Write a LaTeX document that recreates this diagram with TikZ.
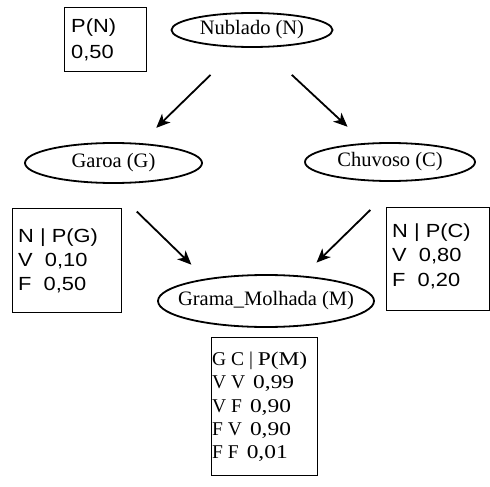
\documentclass[tikz,border=0pt]{standalone}
\usepackage{fontspec}
\setmainfont{Liberation Serif}
\newfontfamily\tabsans[FakeStretch=1.15]{Liberation Sans}
\newfontfamily\tabwide[FakeStretch=1.2]{Liberation Serif}
\usetikzlibrary{shapes.geometric,arrows.meta}

% one row of the table of Grama_Molhada: parent values, then probability
\newcommand\cptrow[2]{#1\hspace{8pt}{\tabwide #2}}

\tikzset{
  chance/.style={ellipse, draw, line width=1.8pt, inner sep=0pt, outer sep=0pt,
    font=\fontsize{20.5}{24}\selectfont},
  cpt/.style={draw, line width=0.9pt, rectangle, inner sep=0pt, outer sep=0pt},
  sanstxt/.style={anchor=base west, inner sep=0pt, font=\tabsans\fontsize{19}{22}\selectfont},
  seriftxt/.style={anchor=base west, inner sep=0pt, font=\fontsize{19.5}{22}\selectfont},
  influence/.style={line width=1.8pt, -{Stealth[length=14pt,width=12pt,inset=4pt]}},
}

\begin{document}
\begin{tikzpicture}[x=1pt,y=-1pt]
\useasboundingbox (0,0) rectangle (490,487);

% variables of the network
\node[chance, minimum width=161pt, minimum height=34pt] (N) at (252,30) {\makebox[0pt]{Nublado (N)}};
\node[chance, minimum width=177pt, minimum height=40pt] (G) at (113.5,163) {\makebox[0pt]{Garoa (G)}};
\node[chance, minimum width=170pt, minimum height=38pt] (C) at (390,162) {\makebox[0pt]{Chuvoso (C)}};
\node[chance, minimum width=216pt, minimum height=52pt] (M) at (266,301) {\makebox[0pt]{Grama\_Molhada (M)}};

% dependencies
\draw[influence, shorten <=40.3pt, shorten >=23pt] (N.-127) -- (G.36);
\draw[influence, shorten <=41pt, shorten >=25pt] (N.-60) -- (C.143.4);
\draw[influence, shorten <=41pt, shorten >=21pt] (G.-107.85) -- (M.160.75);
\draw[influence, shorten <=41.6pt, shorten >=19.9pt] (C.-62.65) -- (M.34.8);

% probability tables
\node[cpt, minimum width=82pt, minimum height=64pt] (tN) at (105,39) {};
\node[sanstxt] (tN1) at (71,33) {P(N)};
\node[sanstxt] (tN2) at (71,59) {0,50};

\node[cpt, minimum width=109pt, minimum height=104pt] (tG) at (66.5,260) {};
\node[sanstxt] (tG1) at (18,242) {N | P(G)};
\node[sanstxt] (tG2) at (18,266) {V\ \ 0,10};
\node[sanstxt] (tG3) at (18,290) {F\ \ 0,50};

\node[cpt, minimum width=103pt, minimum height=103pt] (tC) at (437.5,258.5) {};
\node[sanstxt] (tC1) at (392,237) {N | P(C)};
\node[sanstxt] (tC2) at (392,261) {V\ \ 0,80};
\node[sanstxt] (tC3) at (392,286) {F\ \ 0,20};

\node[cpt, minimum width=106pt, minimum height=138pt] (tM) at (264,406) {};
\node[seriftxt] (tM1) at (212,365) {G C | {\tabwide P(M)}};
\node[seriftxt] (tM2) at (212,388) {\cptrow{V V}{0,99}};
\node[seriftxt] (tM3) at (212,412) {\cptrow{V F}{0,90}};
\node[seriftxt] (tM4) at (212,435) {\cptrow{F V}{0,90}};
\node[seriftxt] (tM5) at (212,458) {\cptrow{F F}{0,01}};
\end{tikzpicture}
\end{document}
